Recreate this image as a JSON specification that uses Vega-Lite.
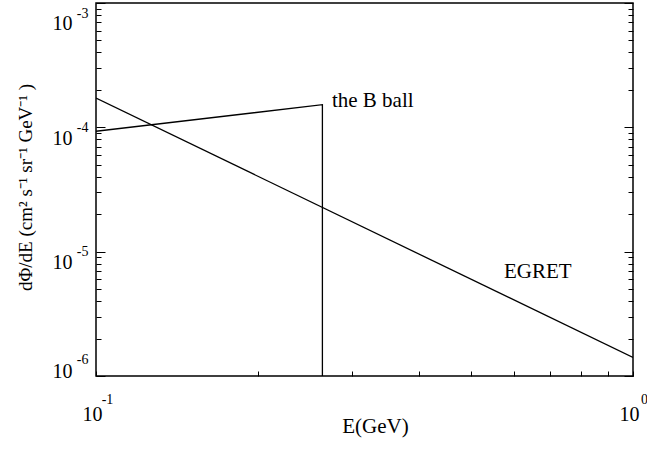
{
  "$schema": "https://vega.github.io/schema/vega-lite/v6.json",
  "width": 537,
  "height": 373,
  "autosize": "none",
  "padding": {"left": 96, "top": 3, "right": 14, "bottom": 77},
  "background": "white",
  "config": {
    "view": {"stroke": "black", "strokeWidth": 1.5},
    "font": "Liberation Serif",
    "axis": {
      "grid": false,
      "domain": false,
      "labelFont": "Liberation Serif",
      "titleFont": "Liberation Serif",
      "labelColor": "black",
      "titleColor": "black",
      "tickColor": "black",
      "tickWidth": 1,
      "labelFontWeight": "normal",
      "titleFontWeight": "normal",
      "labelFlush": false,
      "labelOverlap": false
    }
  },
  "datasets": {
    "lines": [
      {"series": "EGRET", "idx": 1, "E": 0.1, "flux": 0.000172},
      {"series": "EGRET", "idx": 2, "E": 1.0, "flux": 0.00000141},
      {"series": "B ball", "idx": 1, "E": 0.1, "flux": 0.000093},
      {"series": "B ball", "idx": 2, "E": 0.264, "flux": 0.000152},
      {"series": "B ball", "idx": 3, "E": 0.264, "flux": 0.000001}
    ],
    "labels": [
      {"text": "the B ball", "E": 0.275, "flux": 0.000147},
      {"text": "EGRET", "E": 0.575, "flux": 0.00000619}
    ]
  },
  "layer": [
    {
      "data": {"name": "lines"},
      "transform": [{"filter": "datum.series == 'EGRET'"}],
      "mark": {"type": "line", "color": "black", "strokeWidth": 1.3, "clip": true},
      "encoding": {
        "x": {
          "field": "E",
          "type": "quantitative",
          "scale": {"type": "log", "domain": [0.1, 1], "nice": false},
          "axis": {
            "orient": "bottom",
            "values": [0.1, 0.2, 0.3, 0.4, 0.5, 0.6, 0.7, 0.8, 0.9, 1.0],
            "labelExpr": "datum.value < 0.15 ? '10' : datum.value > 0.95 ? '10' : ''",
            "tickSize": -5,
            "labelFontSize": 20,
            "labelPadding": 33,
            "labelOffset": -4,
            "labelBaseline": "top",
            "title": "E(GeV)",
            "titleFontSize": 21,
            "titleX": 279,
            "titleY": 56,
            "titleAlign": "center",
            "titleBaseline": "alphabetic"
          }
        },
        "y": {
          "field": "flux",
          "type": "quantitative",
          "scale": {"type": "log", "domain": [0.000001, 0.001], "nice": false},
          "axis": {
            "orient": "left",
            "values": [0.000001, 0.000002, 0.000003, 0.000004, 0.000005, 0.000006, 0.000007, 0.000008, 0.000009,
                       0.00001, 0.00002, 0.00003, 0.00004, 0.00005, 0.00006, 0.00007, 0.00008, 0.00009,
                       0.0001, 0.0002, 0.0003, 0.0004, 0.0005, 0.0006, 0.0007, 0.0008, 0.0009, 0.001],
            "labelExpr": "(datum.value > 0.00095 || (datum.value > 0.000095 && datum.value < 0.000105) || (datum.value > 0.0000095 && datum.value < 0.0000105) || datum.value < 0.00000105) ? '10' : ''",
            "tickSize": {"condition": {"test": "datum.value > 0.00095 || (datum.value > 0.000095 && datum.value < 0.000105) || (datum.value > 0.0000095 && datum.value < 0.0000105) || datum.value < 0.00000105", "value": -9}, "value": -5},
            "labelFontSize": 20,
            "labelPadding": 33,
            "labelAlign": "right",
            "labelBaseline": {"condition": {"test": "datum.value < 0.00000105", "value": "alphabetic"}, "value": "top"},
            "labelOffset": {"condition": {"test": "datum.value > 0.00095", "value": 10}, "value": 1},
            "title": "dΦ/dE (cm² s⁻¹ sr⁻¹ GeV⁻¹ )",
            "titleFontSize": 19,
            "titleAngle": -90,
            "titleX": -71,
            "titleY": 184,
            "titleAlign": "center",
            "titleBaseline": "middle"
          }
        },
        "order": {"field": "idx", "type": "quantitative"}
      }
    },
    {
      "data": {"name": "lines"},
      "transform": [{"filter": "datum.series == 'B ball'"}],
      "mark": {"type": "line", "color": "black", "strokeWidth": 1.3, "clip": true},
      "encoding": {
        "x": {
          "field": "E",
          "type": "quantitative",
          "axis": {
            "orient": "bottom",
            "values": [0.1, 1.0],
            "labelExpr": "datum.value < 0.15 ? '-1' : '0'",
            "ticks": false,
            "labelFontSize": 14,
            "labelPadding": 16,
            "labelOffset": 11,
            "labelBaseline": "top",
            "title": null
          }
        },
        "y": {
          "field": "flux",
          "type": "quantitative",
          "axis": {
            "orient": "left",
            "values": [0.000001, 0.00001, 0.0001, 0.001],
            "labelExpr": "datum.value > 0.00095 ? '-3' : datum.value > 0.000095 ? '-4' : datum.value > 0.0000095 ? '-5' : '-6'",
            "ticks": false,
            "labelFontSize": 14,
            "labelPadding": 8,
            "labelAlign": "right",
            "labelBaseline": {"condition": {"test": "datum.value < 0.00000105", "value": "alphabetic"}, "value": "top"},
            "labelOffset": {"condition": [{"test": "datum.value > 0.00095", "value": 3}, {"test": "datum.value < 0.00000105", "value": -13}], "value": -7},
            "title": null
          }
        },
        "order": {"field": "idx", "type": "quantitative"}
      }
    },
    {
      "data": {"name": "labels"},
      "mark": {"type": "text", "fontSize": 21, "align": "left", "baseline": "alphabetic", "font": "Liberation Serif", "color": "black"},
      "encoding": {
        "x": {"field": "E", "type": "quantitative", "axis": null},
        "y": {
          "field": "flux",
          "type": "quantitative",
          "axis": {
            "orient": "right",
            "values": [0.000001, 0.000002, 0.000003, 0.000004, 0.000005, 0.000006, 0.000007, 0.000008, 0.000009,
                       0.00001, 0.00002, 0.00003, 0.00004, 0.00005, 0.00006, 0.00007, 0.00008, 0.00009,
                       0.0001, 0.0002, 0.0003, 0.0004, 0.0005, 0.0006, 0.0007, 0.0008, 0.0009, 0.001],
            "labels": false,
            "title": null,
            "tickSize": {"condition": {"test": "datum.value > 0.00095 || (datum.value > 0.000095 && datum.value < 0.000105) || (datum.value > 0.0000095 && datum.value < 0.0000105) || datum.value < 0.00000105", "value": -9}, "value": -5}
          }
        },
        "text": {"field": "text"}
      }
    }
  ],
  "resolve": {"axis": {"x": "independent", "y": "independent"}}
}
